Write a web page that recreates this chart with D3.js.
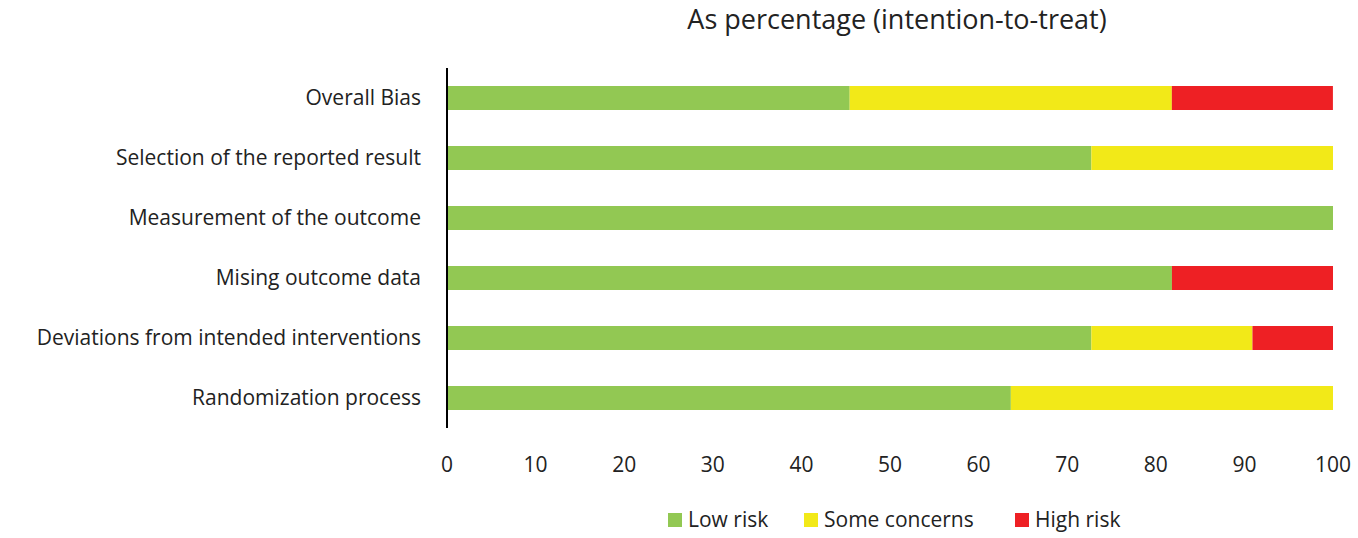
<!DOCTYPE html>
<html>
<head>
<meta charset="utf-8">
<script src="https://cdn.jsdelivr.net/npm/d3@7"></script>
<style>
  body { margin: 0; background: #fff; }
  text { font-family: "Open Sans", "Liberation Sans", sans-serif; fill: #222; }
</style>
</head>
<body>
<div id="chart"></div>
<script>
// domains, top to bottom
const domains = ['Overall Bias', 'Selection of the reported result', 'Measurement of the outcome',
    'Mising outcome data', 'Deviations from intended interventions', 'Randomization process'];
// percentages (11 studies)
const lowRisk = [45.45, 72.73, 100, 81.82, 72.73, 63.64];
const someConcerns = [36.36, 27.27, 0, 0, 18.18, 36.36];
const highRisk = [18.18, 0, 0, 18.18, 9.09, 0];
const seriesNames = ['Low risk', 'Some concerns', 'High risk'];
const seriesColors = ['#92c853', '#f2e918', '#ee2024'];
const xTicks = [0, 10, 20, 30, 40, 50, 60, 70, 80, 90, 100];

const width = 1358, height = 538;
const svg = d3.select('#chart').append('svg').attr('width', width).attr('height', height);

const x = d3.scaleLinear().domain([0, 100]).range([447, 1333]);
const y = d3.scaleBand().domain(domains).range([68, 428]).paddingInner(0.6).paddingOuter(0.3);

const rows = domains.map((d, i) => ({name: d, vals: [lowRisk[i], someConcerns[i], highRisk[i]]}));
const stacked = d3.stack().keys([0, 1, 2]).value((d, k) => d.vals[k])(rows);

svg.selectAll('.series').data(stacked).enter().append('g')
    .attr('fill', (d, i) => seriesColors[i])
    .selectAll('rect').data(d => d).enter().append('rect')
    .attr('x', d => x(d[0]))
    .attr('width', d => x(d[1]) - x(d[0]))
    .attr('y', d => y(d.data.name))
    .attr('height', y.bandwidth());

// vertical axis line
svg.append('line').attr('x1', 447).attr('x2', 447).attr('y1', 68).attr('y2', 428)
    .attr('stroke', '#000').attr('stroke-width', 2);

svg.selectAll('.ylab').data(domains).enter().append('text')
    .attr('x', 421).attr('y', d => y(d) + y.bandwidth() / 2)
    .attr('dy', '0.35em').attr('text-anchor', 'end').attr('font-size', 21).text(d => d);

svg.selectAll('.xlab').data(xTicks).enter().append('text')
    .attr('x', d => x(d)).attr('y', 465).attr('dy', '0.35em')
    .attr('text-anchor', 'middle').attr('font-size', 21).text(d => d);

svg.append('text').attr('x', 897).attr('y', 20).attr('dy', '0.35em')
    .attr('text-anchor', 'middle').attr('font-size', 27).text('As percentage (intention-to-treat)');

const legendX = [668, 804, 1015];
const lg = svg.selectAll('.legend').data(seriesNames).enter().append('g')
    .attr('transform', (d, i) => `translate(${legendX[i]},520)`);
lg.append('rect').attr('x', 0).attr('y', -7).attr('width', 14).attr('height', 14)
    .attr('fill', (d, i) => seriesColors[i]);
lg.append('text').attr('x', 20).attr('dy', '0.35em').attr('font-size', 21).text(d => d);
</script>
</body>
</html>
